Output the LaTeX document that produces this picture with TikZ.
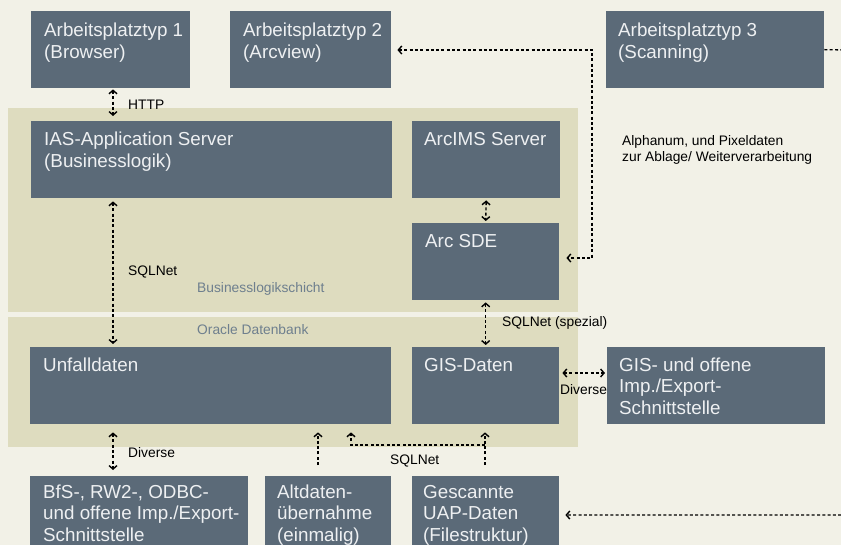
\documentclass[tikz,border=0pt]{standalone}
\usepackage{fontspec}
\setmainfont{Liberation Sans}
\usetikzlibrary{arrows.meta,calc}
\definecolor{bgc}{HTML}{F2F1E7}
\definecolor{band}{HTML}{DEDCBF}
\definecolor{boxc}{HTML}{5B6A78}
\definecolor{boxt}{HTML}{EEF0F2}
\definecolor{laycol}{HTML}{6E7F8E}
\newcommand\mlines[1]{\begin{tabular}[t]{@{}l@{}}#1\end{tabular}}
\tikzset{
 boxst/.style={fill=boxc, draw=none, anchor=north west, inner sep=0pt},
 bandst/.style={fill=band, draw=none, anchor=north west, inner sep=0pt},
 boxtxt/.style={text=boxt, anchor=base west, inner sep=0pt, font=\fontsize{18.8}{21.6}\selectfont},
 lbl/.style={text=black, anchor=base west, inner sep=0pt, font=\fontsize{13.8}{16}\selectfont},
 laylbl/.style={text=laycol, anchor=base west, inner sep=0pt, font=\fontsize{13.8}{16}\selectfont},
 conn/.style={draw=black, line width=1.4pt, dash pattern=on 3pt off 2.3pt},
 chev/.tip={Straight Barb[length=3.5pt,width=8pt]},
 bi/.style={conn, chev-chev},
 uni/.style={conn, -chev},
}
\begin{document}
\begin{tikzpicture}[x=1pt,y=-1pt]
\useasboundingbox (0,0) rectangle (841,545);
\clip (0,0) rectangle (841,545);
\fill[bgc] (0,0) rectangle (841,545);
% bands
\node[bandst, minimum width=570pt, minimum height=204pt] (bl) at (8,108) {};
\node[bandst, minimum width=570pt, minimum height=130pt] (db) at (8,317) {};
% boxes
\node[boxst, minimum width=159pt, minimum height=77pt] (b1) at (31,11) {};
\node[boxst, minimum width=161pt, minimum height=77pt] (b2) at (230,11) {};
\node[boxst, minimum width=218pt, minimum height=77pt] (b3) at (606,11) {};
\node[boxst, minimum width=361pt, minimum height=77pt] (ias) at (31,121) {};
\node[boxst, minimum width=148pt, minimum height=77pt] (ims) at (412,121) {};
\node[boxst, minimum width=147pt, minimum height=77pt] (sde) at (412,223) {};
\node[boxst, minimum width=361pt, minimum height=77pt] (unf) at (30,347) {};
\node[boxst, minimum width=147pt, minimum height=77pt] (gis) at (412,347) {};
\node[boxst, minimum width=218pt, minimum height=77pt] (gio) at (607,347) {};
\node[boxst, minimum width=218pt, minimum height=80pt] (bfs) at (30,476) {};
\node[boxst, minimum width=126pt, minimum height=80pt] (alt) at (265,476) {};
\node[boxst, minimum width=147pt, minimum height=80pt] (gsc) at (412,476) {};
% box texts
\node[boxtxt] (b1t) at (44,37) {\mlines{Arbeitsplatztyp 1\\(Browser)}};
\node[boxtxt] (b2t) at (243,37) {\mlines{Arbeitsplatztyp 2\\(Arcview)}};
\node[boxtxt] (b3t) at (618,37) {\mlines{Arbeitsplatztyp 3\\(Scanning)}};
\node[boxtxt] (iast) at (44,146) {\mlines{IAS-Application Server\\(Businesslogik)}};
\node[boxtxt] (imst) at (424,146) {ArcIMS Server};
\node[boxtxt] (sdet) at (425,248) {Arc SDE};
\node[boxtxt] (unft) at (43,371) {Unfalldaten};
\node[boxtxt] (gist) at (424,372) {GIS-Daten};
\node[boxtxt] (giot) at (619,371) {\mlines{GIS- und offene\\Imp./Export-\\Schnittstelle}};
\node[boxtxt] (bfst) at (43,498) {\mlines{BfS-, RW2-, ODBC-\\und offene Imp./Export-\\Schnittstelle}};
\node[boxtxt] (altt) at (277,498) {\mlines{Altdaten-\\übernahme\\(einmalig)}};
\node[boxtxt] (gsct) at (423,498) {\mlines{Gescannte\\UAP-Daten\\(Filestruktur)}};
% layer labels
\node[laylbl] (lbiz) at (197,293) {Businesslogikschicht};
\node[laylbl] (lora) at (197,335) {Oracle Datenbank};
% connectors
\coordinate (xa) at (113,0);
\draw[bi, shorten <=1pt, shorten >=5pt] (b1.south -| xa) -- (ias.north -| xa);
\node[lbl] (lhttp) at (128,110) {HTTP};
\draw[bi, shorten <=3pt, shorten >=3pt] (ias.south -| xa) -- (unf.north -| xa);
\node[lbl] (lsql1) at (128,276) {SQLNet};
\draw[bi, shorten <=2pt, shorten >=2pt] (ims.south) -- (sde.north);
\draw[bi, shorten <=2pt, shorten >=2pt] (sde.south) -- (gis.north);
\node[lbl] (lsqls) at (502,327) {SQLNet (spezial)};
\coordinate (j1) at (592,50);
\coordinate (j2) at (592,258);
\draw[bi, shorten <=6pt, shorten >=7pt] (b2.east |- j1) -- (j1) -- (j2) -- (sde.east |- j2);
\node[lbl] (lalpha) at (622,146) {\mlines{Alphanum, und Pixeldaten\\zur Ablage/ Weiterverarbeitung}};
\coordinate (yg) at (0,373);
\draw[bi, shorten <=3pt, shorten >=2pt] (gis.east |- yg) -- (gio.west |- yg);
\node[lbl] (ldiv1) at (560,395) {Diverse};
\draw[bi, shorten <=8pt, shorten >=6pt] (unf.south -| xa) -- (bfs.north -| xa);
\node[lbl] (ldiv2) at (128,457) {Diverse};
\coordinate (a1) at (318,465);
\draw[uni, shorten >=8pt] (a1) -- (unf.south -| a1);
\coordinate (g1) at (485,465);
\coordinate (g2) at (485,445);
\coordinate (g3) at (351,445);
\draw[uni, shorten >=8pt] (g1) -- (gis.south -| g1);
\draw[uni, shorten >=8pt] (g2) -- (g3) -- (unf.south -| g3);
\node[lbl] (lsql2) at (390,464) {SQLNet};
\coordinate (r1) at (860,50);
\coordinate (r2) at (860,515);
\draw[uni, shorten >=6pt] (b3.east) -- (r1) -- (r2) -- (gsc.east |- r2);
\end{tikzpicture}
\end{document}
